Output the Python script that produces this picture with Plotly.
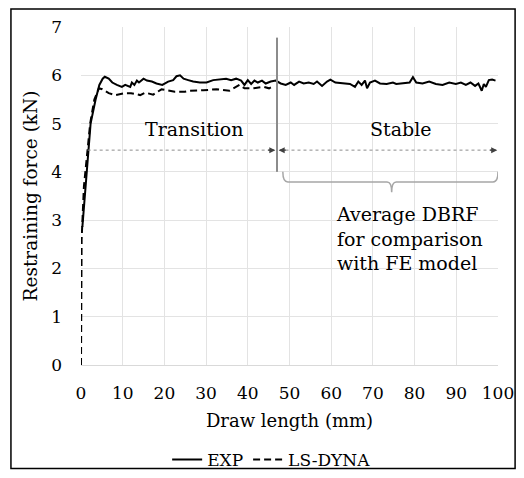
import plotly.graph_objects as go

# EXP curve (draw length mm, restraining force kN)
EXP_X = [0.33, 1.1, 1.8, 2.3, 3.5, 4.4, 5.2, 5.7, 6.65, 7.5, 8.6, 9.8, 10.6, 11.8, 12.2, 12.8, 13.4, 13.9,
         15.0, 15.8, 17.0, 18.1, 19.5, 20.9, 22.1, 22.9, 23.75, 24.6, 25.7, 26.9, 28.5, 30.1, 31.7, 33.3,
         34.8, 36.0, 37.2, 38.4, 39.2, 40.0, 40.8, 41.6, 42.4, 43.4, 44.3, 45.5, 46.7, 47.9, 49.1, 50.3,
         51.1, 52.3, 53.4, 54.6, 55.8, 56.6, 57.8, 59.0, 59.8, 61.0, 62.6, 64.5, 65.7, 66.5, 67.3, 68.1,
         68.6, 69.3, 70.5, 71.7, 73.3, 74.8, 75.6, 77.6, 78.8, 79.6, 80.4, 81.9, 83.5, 85.1, 86.7, 88.3,
         89.9, 91.1, 92.3, 93.4, 94.5, 95.3, 96.1, 96.6, 97.1, 97.8, 98.6, 99.4]
EXP_Y = [2.86, 3.7, 4.45, 5.0, 5.5, 5.8, 5.93, 5.97, 5.93, 5.85, 5.80, 5.76, 5.80, 5.76, 5.85, 5.80, 5.89, 5.85,
         5.93, 5.89, 5.87, 5.83, 5.80, 5.87, 5.90, 5.98, 6.0, 5.93, 5.90, 5.87, 5.85, 5.85, 5.90, 5.91,
         5.93, 5.90, 5.93, 5.89, 5.80, 5.90, 5.82, 5.89, 5.85, 5.89, 5.83, 5.87, 5.89, 5.83, 5.80, 5.85,
         5.80, 5.87, 5.83, 5.85, 5.82, 5.87, 5.78, 5.87, 5.91, 5.85, 5.83, 5.82, 5.76, 5.87, 5.80, 5.89,
         5.73, 5.85, 5.89, 5.83, 5.82, 5.85, 5.82, 5.83, 5.85, 5.96, 5.85, 5.83, 5.87, 5.82, 5.80, 5.85,
         5.82, 5.85, 5.80, 5.85, 5.78, 5.83, 5.68, 5.82, 5.76, 5.90, 5.91, 5.89]

# LS-DYNA curve
DYNA_X = [0.0, 0.05, 0.15, 0.7, 1.5, 2.2, 3.2, 4.3, 5.1, 6.65, 8.2, 10.6, 12.0, 14.2, 15.4, 17.3, 19.3,
          20.9, 22.5, 24.9, 26.1, 29.3, 32.5, 35.6, 38.0, 39.2, 41.2, 43.9, 45.1, 46.3]
DYNA_Y = [0.0, 1.5, 2.6, 3.7, 4.45, 5.0, 5.5, 5.73, 5.71, 5.63, 5.59, 5.63, 5.63, 5.59, 5.64, 5.60, 5.71,
          5.68, 5.66, 5.66, 5.68, 5.69, 5.71, 5.68, 5.80, 5.73, 5.73, 5.76, 5.73, 5.78]

X_TICKS = [0, 10, 20, 30, 40, 50, 60, 70, 80, 90, 100]
Y_TICKS = [0, 1, 2, 3, 4, 5, 6, 7]

FONT = "DejaVu Serif"
GRAY = "#8c8c8c"

fig = go.Figure()
fig.add_trace(go.Scatter(x=EXP_X, y=EXP_Y, mode="lines", name="EXP",
                         line=dict(color="black", width=2)))
fig.add_trace(go.Scatter(x=DYNA_X, y=DYNA_Y, mode="lines", name="LS-DYNA",
                         line=dict(color="black", width=2, dash="7px,4px")))

# phase markers
fig.add_shape(type="line", x0=47, x1=47, y0=4.0, y1=6.78, line=dict(color=GRAY, width=2))
fig.add_shape(type="line", x0=1.6, x1=46.4, y0=4.45, y1=4.45, line=dict(color=GRAY, width=1, dash="dot"))
fig.add_shape(type="line", x0=47.6, x1=99.6, y0=4.45, y1=4.45, line=dict(color=GRAY, width=1, dash="dot"))
for xh, ax in [(46.6, 44.5), (47.4, 49.5), (99.8, 97.7)]:
    fig.add_annotation(x=xh, y=4.45, ax=ax, ay=4.45, axref="x", ayref="y", text="", showarrow=True,
                       arrowhead=2, arrowsize=1, arrowwidth=1.2, arrowcolor="#404040")

# brace under the stable region
fig.add_shape(type="path",
              path="M 48.4,4.0 Q 48.4,3.79 49.6,3.79 L 73.4,3.79 Q 74.5,3.79 74.5,3.58 "
                   "Q 74.5,3.79 75.6,3.79 L 98.8,3.79 Q 100,3.79 100,4.0",
              line=dict(color="#a6a6a6", width=1.5))

fig.add_annotation(x=27.2, y=4.88, text="Transition", showarrow=False,
                   font=dict(family=FONT, size=19, color="black"))
fig.add_annotation(x=76.6, y=4.88, text="Stable", showarrow=False,
                   font=dict(family=FONT, size=19, color="black"))
fig.add_annotation(x=60.6, y=2.63, xanchor="left", align="left", showarrow=False,
                   text="Average DBRF<br>for comparison<br>with FE model",
                   font=dict(family=FONT, size=19, color="black"))

# outer frame
fig.add_shape(type="rect", xref="paper", yref="paper", x0=-0.168, x1=1.041, y0=-0.306, y1=1.053,
              line=dict(color="black", width=1.5), layer="below")

fig.update_xaxes(range=[0, 100], tickvals=X_TICKS, showgrid=True, gridcolor="#e3e3e3", gridwidth=1,
                 zeroline=False, showline=True, linecolor="#d9d9d9", linewidth=1, ticks="",
                 automargin=False, ticklabelstandoff=13,
                 tickfont=dict(family=FONT, size=17, color="black"),
                 title=dict(text="Draw length (mm)", font=dict(family=FONT, size=18, color="black"),
                            standoff=11))
fig.update_yaxes(range=[0, 7], tickvals=Y_TICKS, showgrid=True, gridcolor="#e3e3e3", gridwidth=1,
                 zeroline=False, ticks="", automargin=False, ticklabelstandoff=18,
                 tickfont=dict(family=FONT, size=17, color="black"),
                 title=dict(text="Restraining force (kN)", font=dict(family=FONT, size=18.5, color="black"),
                            standoff=8))
fig.update_layout(
    width=508, height=462, autosize=False,
    margin=dict(l=73, r=18, t=19, b=105, autoexpand=False),
    paper_bgcolor="white", plot_bgcolor="white",
    font=dict(family=FONT, color="black"),
    legend=dict(orientation="h", x=0.456, y=-0.281, xanchor="center", yanchor="middle",
                font=dict(family=FONT, size=17, color="black"), itemwidth=30,
                bgcolor="rgba(0,0,0,0)"),
)

fig.write_html("out.html")
